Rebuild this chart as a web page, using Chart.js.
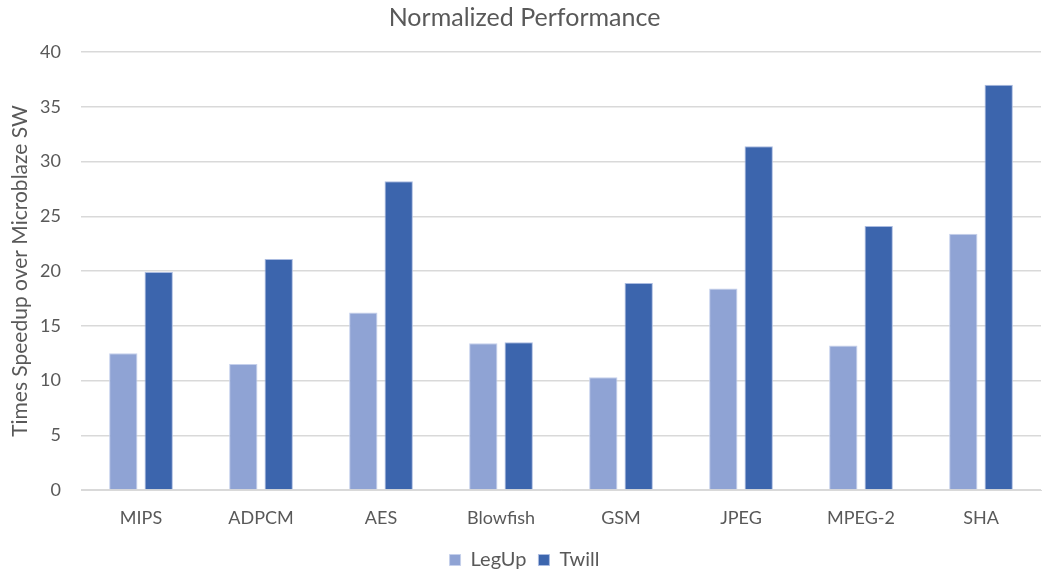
<!DOCTYPE html>
<html>
<head>
<meta charset="utf-8">
<script src="https://cdn.jsdelivr.net/npm/chart.js@4/dist/chart.umd.min.js"></script>
<style>
  html, body { margin: 0; padding: 0; background: #fff; }
  #wrap { width: 1054px; height: 571px; }
</style>
</head>
<body>
<div id="wrap"><canvas id="chart"></canvas></div>
<script>
// Chart data
const categories = ["MIPS", "ADPCM", "AES", "Blowfish", "GSM", "JPEG", "MPEG-2", "SHA"];
const legupValues = [12.5, 11.5, 16.2, 13.4, 10.3, 18.4, 13.2, 23.4];
const twillValues = [19.9, 21.1, 28.2, 13.5, 18.9, 31.4, 24.1, 37.0];
const yTicks = [0, 5, 10, 15, 20, 25, 30, 35, 40];

const textColor = "#595959";
const fontFamily = "Lato, 'Open Sans', sans-serif";

Chart.defaults.font.family = fontFamily;
Chart.defaults.color = textColor;

// keep the legend strip short so the plot reaches down like the original
const legendHeight = {
  id: "legendHeight",
  beforeInit(chart) {
    const legend = chart.legend;
    const fit = legend.fit;
    legend.fit = function () {
      fit.call(this);
      this.height = 33;
    };
  },
};

const ctx = document.getElementById("chart").getContext("2d");
new Chart(ctx, {
  type: "bar",
  data: {
    labels: categories,
    datasets: [
      {
        label: "LegUp",
        data: legupValues,
        backgroundColor: "#8fa3d4",
        borderColor: "#c5d0ec",
        borderWidth: 1,
        categoryPercentage: 0.59,
        barPercentage: 0.8,
      },
      {
        label: "Twill",
        data: twillValues,
        backgroundColor: "#3c65ad",
        borderColor: "#aabbe0",
        borderWidth: 1,
        categoryPercentage: 0.59,
        barPercentage: 0.8,
      },
    ],
  },
  options: {
    responsive: true,
    maintainAspectRatio: false,
    animation: false,
    layout: { padding: { left: 8, right: 13, top: 0, bottom: 0 } },
    plugins: {
      title: {
        display: true,
        text: "Normalized Performance",
        color: textColor,
        font: { size: 25, weight: "normal" },
        padding: { top: 3, bottom: 19 },
      },
      legend: {
        position: "bottom",
        labels: {
          boxWidth: 11,
          boxHeight: 11,
          font: { size: 20 },
          padding: 12,
        },
      },
      tooltip: { enabled: false },
    },
    scales: {
      x: {
        grid: { display: false, drawTicks: false },
        border: { color: "#d9d9d9", width: 1 },
        ticks: { font: { size: 18 }, padding: 17 },
        afterFit: (scale) => { scale.height = 48; },
      },
      y: {
        min: 0,
        max: 40,
        afterBuildTicks: (axis) => {
          axis.ticks = yTicks.map((v) => ({ value: v }));
        },
        afterFit: (scale) => { scale.width = 73; },
        grid: { color: "#d9d9d9", drawTicks: false, lineWidth: 1.5 },
        border: { display: false },
        ticks: { font: { size: 18 }, padding: 20 },
        title: {
          display: true,
          text: "Times Speedup over Microblaze SW",
          color: textColor,
          font: { size: 21 },
          padding: { top: 0, bottom: 8 },
        },
      },
    },
  },
  plugins: [legendHeight],
});
</script>
</body>
</html>
